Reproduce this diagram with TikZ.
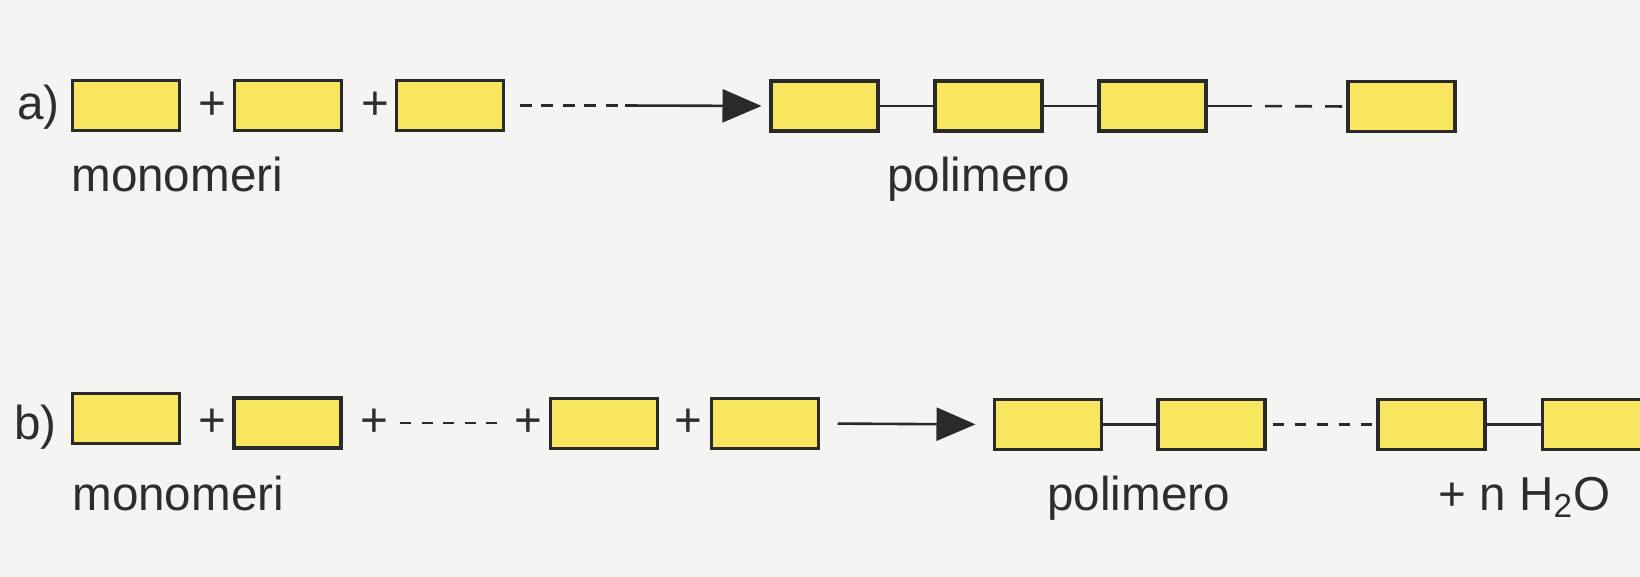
\documentclass[tikz,border=0pt]{standalone}
\usepackage{fontspec}
\setmainfont{Liberation Sans}
\usetikzlibrary{arrows.meta}
\definecolor{boxfill}{RGB}{248,230,96}
\definecolor{ink}{RGB}{42,42,42}
\definecolor{txt}{RGB}{45,45,45}
\definecolor{paper}{RGB}{244,244,242}
\begin{document}
\begin{tikzpicture}[x=0.5pt,y=-0.5pt,
  unit/.style={draw=ink, fill=boxfill, line width=1.6pt, minimum width=53.5pt, minimum height=25pt, inner sep=0pt, outer sep=0pt},
  lbl/.style={text=txt, font=\fontsize{23.8pt}{28pt}\selectfont, inner sep=0pt, anchor=base west},
  plussign/.style={text=txt, font=\fontsize{23.8pt}{28pt}\selectfont, inner sep=0pt},
  bond/.style={draw=ink, line width=1.3pt},
  dashmono/.style={bond, dash pattern=on 6pt off 4.75pt},
  dashpolyA/.style={bond, dash pattern=on 8.5pt off 6.5pt},
  dashmonoB/.style={bond, dash pattern=on 5.5pt off 5.25pt},
  dashpolyB/.style={bond, dash pattern=on 5.5pt off 5.5pt},
  react/.style={bond, -{Triangle[length=19.5pt,width=16.5pt]}}
]
\useasboundingbox (0,0) rectangle (1640,577);
\fill[paper] (0,0) rectangle (1640,577);
\clip (0,0) rectangle (1640,577);

% ---------- row a ----------
\node[lbl] (la) at (17,120) {a)};
\node[unit] (a1) at (126,105.5) {};
\node[plussign] (pa1) at (212,106) {+};
\node[unit] (a2) at (288,105.5) {};
\node[plussign] (pa2) at (375,106) {+};
\node[unit] (a3) at (450,105.5) {};
\coordinate (ma) at (621.5,105.5);
\node[unit] (ap1) at (824.5,106) {};
\node[unit] (ap2) at (988.5,106) {};
\node[unit] (ap3) at (1152.5,106) {};
\coordinate (mb) at (1252,106);
\node[unit] (ap4) at (1401.5,106.5) {};

\draw[dashmono, shorten <=8pt, shorten >=1.75pt] (a3.east) -- (ma);
\draw[react, shorten <=1.75pt, shorten >=4.75pt] (ma) -- (ap1.west);
\draw[bond] (ap1.east) -- (ap2.west);
\draw[bond] (ap2.east) -- (ap3.west);
\draw[bond] (ap3.east) -- (mb);
\draw[dashpolyA, shorten <=6.5pt, shorten >=2.75pt] (mb) -- (ap4.west);

\node[lbl] (ta1) at (71,192) {monomeri};
\node[lbl] (ta2) at (887,192) {polimero};

% ---------- row b ----------
\node[lbl] (lb) at (14,440) {b)};
\node[unit] (b1) at (126,418.5) {};
\node[plussign] (pb1) at (212,423) {+};
\node[unit] (b2) at (287.5,423) {};
\node[plussign] (pb2) at (374,423) {+};
\node[plussign] (pb3) at (528,423) {+};
\node[unit] (b3) at (604,423.5) {};
\node[plussign] (pb4) at (688,423) {+};
\node[unit] (b4) at (765,423.5) {};
\node[unit] (bp1) at (1048,424.5) {};
\node[unit] (bp2) at (1211.5,424.5) {};
\node[unit] (bp3) at (1431.5,424.5) {};
\node[unit] (bp4) at (1596,424.5) {};

\draw[dashmonoB, shorten <=13pt, shorten >=15.5pt] (pb2.center) -- (pb3.center);
\draw[react, shorten <=9.5pt, shorten >=9.5pt] (b4.east) -- (bp1.west);
\draw[bond] (bp1.east) -- (bp2.west);
\draw[dashpolyB, shorten <=3.75pt, shorten >=2.75pt] (bp2.east) -- (bp3.west);
\draw[bond] (bp3.east) -- (bp4.west);

\node[lbl] (tb1) at (72,510) {monomeri};
\node[lbl] (tb2) at (1047,510) {polimero};
\node[lbl] (tb3) at (1438,510) {+ n H\textsubscript{2}O};
\end{tikzpicture}
\end{document}
